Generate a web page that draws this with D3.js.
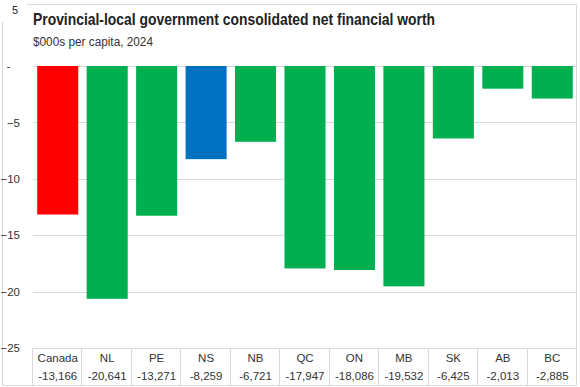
<!DOCTYPE html>
<html>
<head>
<meta charset="utf-8">
<script src="https://cdn.jsdelivr.net/npm/d3@7"></script>
<style>
  body { margin: 0; background: #fff; }
  svg { display: block; }
  text { font-family: "Liberation Sans", Arial, sans-serif; }
</style>
</head>
<body>
<div class="canvas"></div>
<script>
// data
const categories = ['Canada','NL','PE','NS','NB','QC','ON','MB','SK','AB','BC'];
const values = [-13166,-20641,-13271,-8259,-6721,-17947,-18086,-19532,-6425,-2013,-2885];
const barColors = ['#FF0000','#00B050','#00B050','#0070C0','#00B050','#00B050','#00B050','#00B050','#00B050','#00B050','#00B050'];
const yTicks = [0,-5,-10,-15,-20,-25];

const dims = {width: 580, height: 387};
const plot = {left: 33, right: 577, top: 66, bottom: 348};

const svg = d3.select('.canvas').append('svg')
  .attr('width', dims.width)
  .attr('height', dims.height);

// outer frame
svg.append('path')
  .attr('d', `M27,4.5 H576.5 V385.5 H2.5 V22`)
  .attr('fill','none')
  .attr('stroke','#d9d9d9');

svg.append('text').attr('x',12).attr('y',14).attr('font-size',11).attr('fill','#222').text('5');

// titles (condensed to mimic a narrow font)
svg.append('text')
  .attr('x',33).attr('y',25)
  .attr('font-weight','bold').attr('font-size',16.5).attr('fill','#222')
  .attr('textLength',402).attr('lengthAdjust','spacingAndGlyphs')
  .text('Provincial-local government consolidated net financial worth');
svg.append('text')
  .attr('x',33).attr('y',46)
  .attr('font-size',12.5).attr('fill','#333')
  .attr('textLength',120).attr('lengthAdjust','spacingAndGlyphs')
  .text('$000s per capita, 2024');

const x = d3.scaleBand()
  .domain(categories)
  .range([plot.left, plot.right])
  .paddingInner(0.17).paddingOuter(0.085);

const y = d3.scaleLinear()
  .domain([0,-25])
  .range([plot.top, plot.bottom]);

// gridlines
svg.append('g').selectAll('line').data(yTicks.slice(0,-1)).join('line')
  .attr('x1', plot.left).attr('x2', plot.right)
  .attr('y1', d => Math.round(y(d)) + 0.5).attr('y2', d => Math.round(y(d)) + 0.5)
  .attr('stroke','#d9d9d9');

// y axis labels
const yAxis = d3.axisLeft(y).tickValues(yTicks).tickSize(0).tickPadding(0)
  .tickFormat(d => d === 0 ? '-   ' : d3.format('d')(d));
svg.append('g')
  .attr('transform', `translate(20,0)`)
  .call(yAxis)
  .call(g => g.select('.domain').remove())
  .call(g => g.selectAll('text').attr('font-size',11.5).attr('fill','#333')
    .attr('xml:space','preserve').style('white-space','pre')
    .attr('font-family','"Liberation Sans", Arial, sans-serif'));

// bars
svg.append('g').selectAll('rect').data(values).join('rect')
  .attr('x', (d,i) => x(categories[i]))
  .attr('width', x.bandwidth())
  .attr('y', y(0))
  .attr('height', d => y(d/1000) - y(0))
  .attr('fill', (d,i) => barColors[i]);

// data table
const step = x.step();
const table = svg.append('g');
table.append('line')
  .attr('x1', plot.left).attr('x2', plot.right)
  .attr('y1', plot.bottom + 0.5).attr('y2', plot.bottom + 0.5)
  .attr('stroke','#d9d9d9');
table.selectAll('line.v').data(d3.range(categories.length + 1)).join('line')
  .attr('class','v')
  .attr('x1', i => Math.round(plot.left + i*step) - 0.5)
  .attr('x2', i => Math.round(plot.left + i*step) - 0.5)
  .attr('y1', plot.bottom).attr('y2', 385.5)
  .attr('stroke','#d9d9d9');

const fmt = d3.format(',');
table.selectAll('text.cat').data(categories).join('text')
  .attr('class','cat')
  .attr('x', d => x(d) + x.bandwidth()/2)
  .attr('y', 362)
  .attr('text-anchor','middle')
  .attr('font-size',11.5).attr('fill','#333')
  .text(d => d);
table.selectAll('text.val').data(values).join('text')
  .attr('class','val')
  .attr('x', (d,i) => x(categories[i]) + x.bandwidth()/2)
  .attr('y', 380)
  .attr('text-anchor','middle')
  .attr('font-size',11.5).attr('fill','#333')
  .text(d => fmt(d).replace('−','-'));
</script>
</body>
</html>
